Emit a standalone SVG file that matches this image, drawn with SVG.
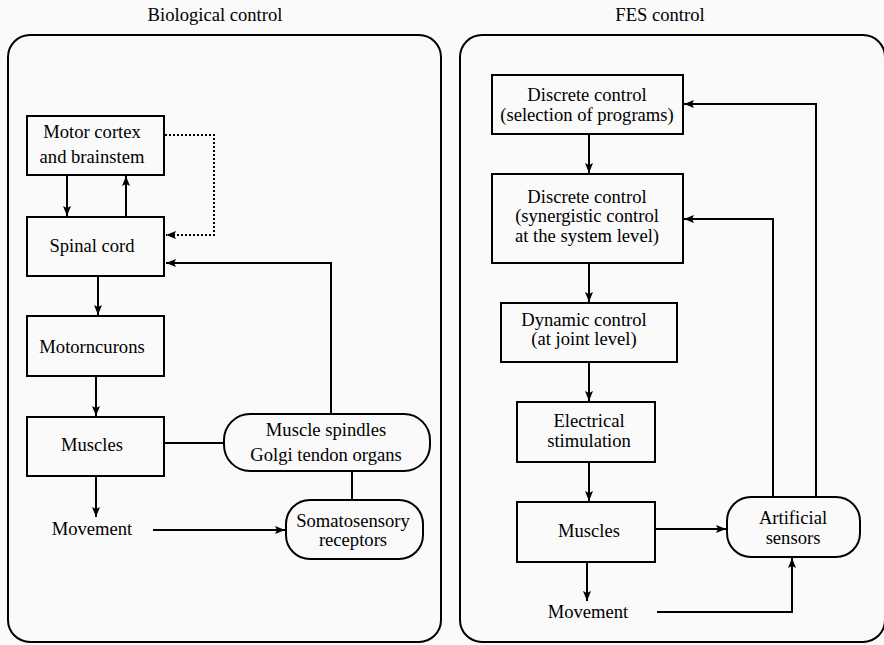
<svg xmlns="http://www.w3.org/2000/svg" width="884" height="645" viewBox="0 0 884 645">
<defs>
<marker id="ah" viewBox="0 0 10 8" refX="10" refY="4" markerWidth="10" markerHeight="8" markerUnits="userSpaceOnUse" orient="auto">
<path d="M0,0 L10,4 L0,8 L2,4 Z" fill="#000"/>
</marker>
<style>
text{font-family:"Liberation Serif","Times New Roman",serif;font-size:18.6px;fill:#000;text-anchor:middle}
.box{fill:none;stroke:#000;stroke-width:2}
.panel{fill:none;stroke:#000;stroke-width:2}
.c{fill:none;stroke:#000;stroke-width:2}
.a{fill:none;stroke:#000;stroke-width:2;marker-end:url(#ah)}
.d{fill:none;stroke:#000;stroke-width:2;stroke-dasharray:2,2;marker-end:url(#ah)}
</style>
</defs>
<rect x="0" y="0" width="884" height="645" fill="#fafafa"/>
<g id="titles">
<text x="215" y="21">Biological control</text>
<text x="660" y="21">FES control</text>
</g>
<g id="panels">
<rect class="panel" x="8" y="35" width="433" height="607" rx="22"/>
<rect class="panel" x="460" y="35" width="425" height="607" rx="22"/>
</g>
<g id="connectors">
<line class="a" x1="67" y1="176" x2="67" y2="216"/>
<line class="a" x1="126" y1="216" x2="126" y2="176"/>
<polyline class="d" points="165,135 214,135 214,235 166,235"/>
<polyline class="a" points="331,414 331,263 166,263"/>
<line class="a" x1="98" y1="277" x2="98" y2="315"/>
<line class="a" x1="96" y1="377" x2="96" y2="416"/>
<line class="c" x1="164" y1="443" x2="224" y2="443"/>
<line class="c" x1="352" y1="471" x2="352" y2="500"/>
<line class="a" x1="96" y1="477" x2="96" y2="517"/>
<line class="a" x1="153" y1="530" x2="285" y2="530"/>
<line class="a" x1="589" y1="135" x2="589" y2="173"/>
<line class="a" x1="589" y1="264" x2="589" y2="302"/>
<line class="a" x1="589" y1="363" x2="589" y2="401"/>
<line class="a" x1="589" y1="463" x2="589" y2="501"/>
<line class="a" x1="655" y1="529" x2="726" y2="529"/>
<polyline class="a" points="773,497 773,219 684,219"/>
<polyline class="a" points="816,497 816,104 684,104"/>
<line class="a" x1="587" y1="563" x2="587" y2="601"/>
<polyline class="a" points="657,612 792,612 792,558"/>
</g>
<g id="motor-cortex">
<rect class="box" x="27" y="116" width="137" height="59"/>
<text x="92" y="138">Motor cortex</text>
<text x="92" y="163">and brainstem</text>
</g>
<g id="spinal-cord">
<rect class="box" x="27" y="217" width="137" height="59"/>
<text x="92" y="252">Spinal cord</text>
</g>
<g id="motorneurons">
<rect class="box" x="27" y="316" width="137" height="60"/>
<text x="92" y="353">Motorncurons</text>
</g>
<g id="muscles-bio">
<rect class="box" x="27" y="417" width="137" height="59"/>
<text x="92" y="451">Muscles</text>
</g>
<g id="muscle-spindles">
<rect class="box" x="224" y="414" width="206" height="57" rx="26"/>
<text x="326" y="436">Muscle spindles</text>
<text x="326" y="461">Golgi tendon organs</text>
</g>
<g id="somatosensory">
<rect class="box" x="286" y="500" width="137" height="59" rx="24"/>
<text x="353" y="527">Somatosensory</text>
<text x="353" y="546">receptors</text>
</g>
<g id="movement-bio">
<text x="92" y="535">Movement</text>
</g>
<g id="discrete-1">
<rect class="box" x="492" y="75" width="191" height="59"/>
<text x="587" y="101">Discrete control</text>
<text x="587" y="121">(selection of programs)</text>
</g>
<g id="discrete-2">
<rect class="box" x="492" y="174" width="191" height="89"/>
<text x="587" y="203">Discrete control</text>
<text x="587" y="222">(synergistic control</text>
<text x="587" y="242">at the system level)</text>
</g>
<g id="dynamic">
<rect class="box" x="501" y="303" width="176" height="59"/>
<text x="584" y="326">Dynamic control</text>
<text x="584" y="345">(at joint level)</text>
</g>
<g id="electrical">
<rect class="box" x="517" y="402" width="138" height="60"/>
<text x="589" y="427">Electrical</text>
<text x="589" y="447">stimulation</text>
</g>
<g id="muscles-fes">
<rect class="box" x="517" y="502" width="138" height="60"/>
<text x="589" y="537">Muscles</text>
</g>
<g id="artificial-sensors">
<rect class="box" x="727" y="497" width="133" height="60" rx="24"/>
<text x="793" y="524">Artificial</text>
<text x="793" y="544">sensors</text>
</g>
<g id="movement-fes">
<text x="588" y="618">Movement</text>
</g>
</svg>
